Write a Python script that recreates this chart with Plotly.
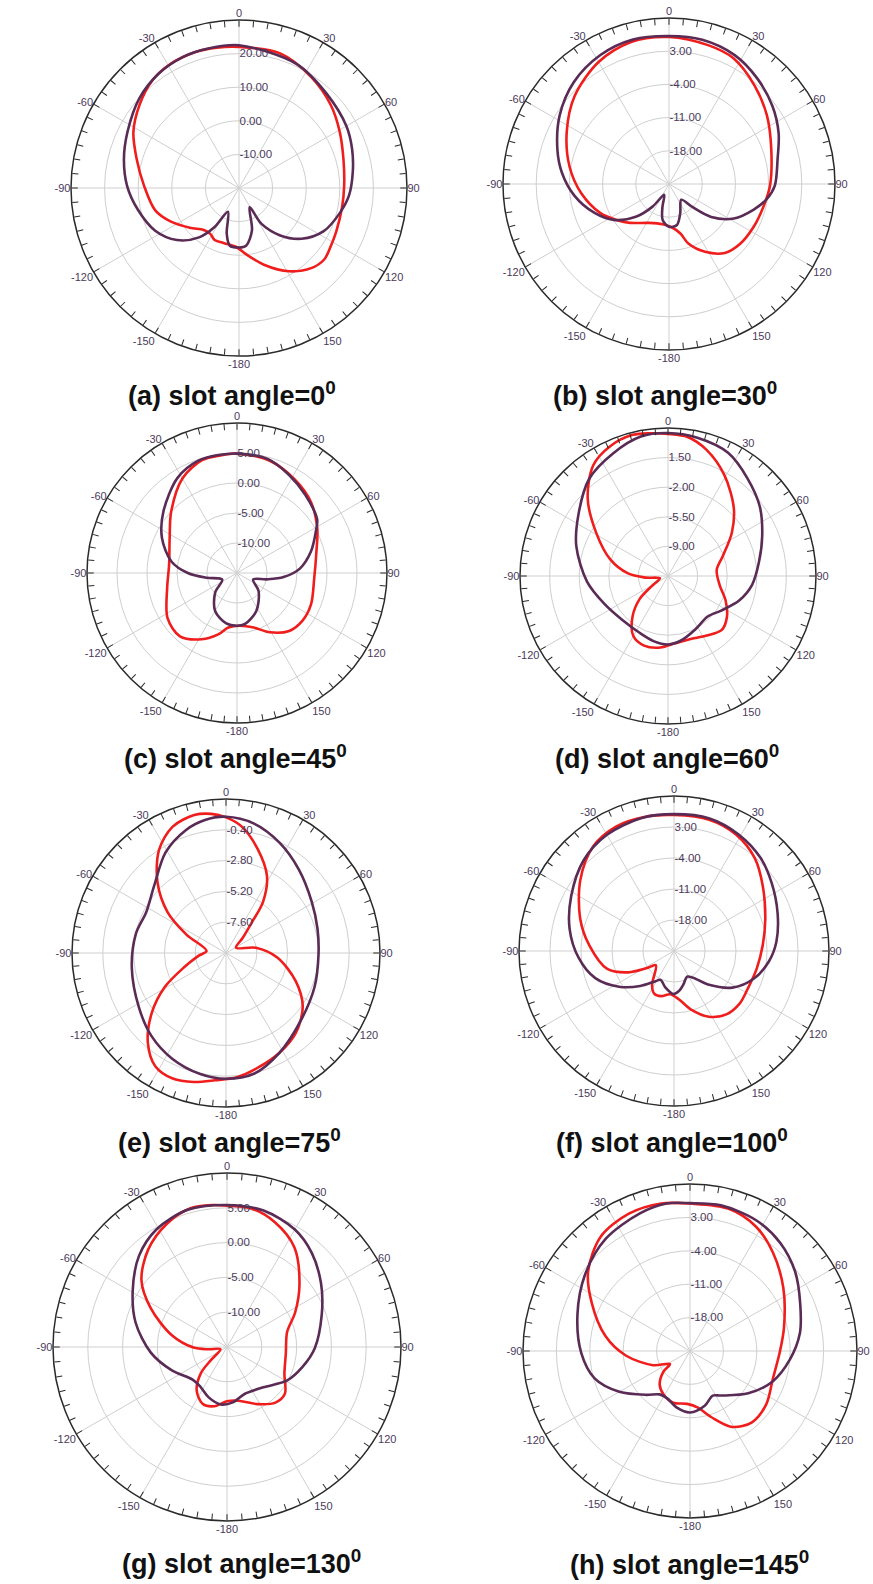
import plotly.graph_objects as go

# Radiation patterns (gain in dB versus angle in degrees, 0 = top, clockwise)
# trace 1 = dark purple curve, trace 2 = red curve

# (a) slot angle = 0
a_theta1 = [0, 25, 43, 60, 71, 82, 94, 104, 117, 129, 139, 148, 151, 163, 173, 180, 189, 195, 205, 212, 219, 230, 243, 258, 271, 284, 297, 312, 325, 337, 348]
a_gain1 = [22.5, 20.7, 18.3, 16.9, 15.6, 14.2, 12.8, 10.9, 8.3, 4.0, -1.3, -7.5, -13.5, -6.8, -2.7, -2.3, -2.6, -5.9, -12.2, -6.3, -1.1, 4.1, 8.0, 10.8, 13.3, 15.3, 17.2, 19.9, 21.6, 22.4, 22.5]
a_theta2 = [0, 17, 33, 48, 61, 75, 89, 100, 114, 123, 130, 138, 149, 162, 174, 183, 195, 205, 212, 220, 231, 244, 255, 271, 286, 298, 310, 321, 331, 342, 351]
a_gain2 = [22.0, 21.9, 19.4, 16.8, 14.3, 12.2, 11.3, 11.2, 11.7, 12.4, 13.1, 12.1, 8.9, 4.0, -0.2, -2.5, -3.0, -2.9, -3.9, -3.7, -1.2, 2.7, 5.8, 8.2, 11.7, 15.6, 18.6, 21.1, 22.2, 22.5, 22.3]
a_range = [-20, 30]
a_rticks = [-10, 0, 10, 20]

# (b) slot angle = 30
b_theta1 = [0, 13, 27, 40, 53, 65, 77, 91, 99, 107, 118, 128, 135, 142, 159, 169, 180, 190, 196, 204, 216, 225, 237, 249, 263, 276, 287, 302, 317, 332, 346]
b_gain1 = [6.2, 6.2, 5.5, 4.0, 2.3, 0.5, -1.5, -2.7, -4.2, -6.4, -9.5, -13.7, -18.3, -20.8, -18.4, -16.2, -16.0, -17.3, -20.0, -22.5, -19.1, -15.3, -11.1, -8.1, -4.9, -2.3, -0.4, 2.2, 4.4, 5.8, 6.4]
b_theta2 = [0, 16, 27, 41, 55, 71, 91, 103, 117, 130, 141, 152, 162, 167, 176, 189, 207, 225, 235, 247, 264, 280, 297, 313, 330, 345]
b_gain2 = [6.0, 5.4, 4.8, 2.5, 0.2, -2.2, -3.7, -4.5, -5.0, -5.4, -6.3, -8.8, -11.8, -14.3, -15.8, -16.4, -15.8, -13.4, -11.7, -9.3, -6.4, -3.7, -0.8, 2.2, 4.7, 6.0]
b_range = [-25, 10]
b_rticks = [-18, -11, -4, 3]

# (c) slot angle = 45
c_theta1 = [0, 15, 28, 41, 56, 62, 74, 86, 95, 102, 112, 130, 153, 171, 180, 192, 210, 228, 246, 261, 270, 280, 295, 310, 328, 341, 351]
c_gain1 = [4.9, 4.7, 3.5, 2.3, 1.1, -0.1, -2.2, -4.5, -7.2, -9.9, -12.1, -10.3, -7.9, -6.4, -6.2, -6.4, -7.7, -10.1, -12.3, -9.9, -6.8, -3.9, -1.2, 1.0, 3.7, 4.8, 4.9]
c_theta2 = [0, 16, 32, 46, 61, 75, 94, 113, 126, 138, 151, 163, 177, 189, 197, 208, 222, 237, 258, 277, 297, 313, 330, 343, 352]
c_gain2 = [4.9, 4.5, 3.3, 2.1, 0.3, -1.3, -2.1, -1.6, -1.5, -2.0, -3.7, -5.5, -6.2, -5.8, -4.3, -2.5, -0.8, -1.2, -3.1, -3.6, -2.4, 0.0, 3.2, 4.7, 4.8]
c_range = [-15, 10]
c_rticks = [-10, -5, 0, 5]

# (d) slot angle = 60
d_theta1 = [0, 12, 26, 39, 53, 67, 81, 96, 109, 123, 136, 153, 169, 180, 192, 207, 226, 246, 266, 288, 305, 321, 336, 349]
d_gain1 = [4.4, 4.2, 3.7, 2.4, 1.1, -0.4, -1.6, -2.5, -3.6, -5.0, -5.8, -5.4, -4.7, -4.4, -4.6, -5.0, -5.0, -4.3, -2.9, -1.1, 0.4, 2.3, 3.4, 4.3]
d_theta2 = [0, 8, 17, 29, 44, 56, 70, 83, 100, 113, 125, 135, 147, 161, 174, 186, 199, 210, 221, 231, 238, 254, 266, 274, 286, 301, 314, 326, 336, 346, 353]
d_gain2 = [4.3, 4.1, 3.1, 1.2, -1.3, -3.4, -5.6, -6.7, -6.3, -5.1, -4.0, -3.5, -4.1, -4.6, -4.5, -4.0, -3.8, -4.3, -6.1, -8.2, -10.2, -11.5, -9.8, -7.7, -5.4, -2.6, 0.7, 3.3, 4.3, 4.7, 4.5]
d_range = [-12.5, 5]
d_rticks = [-9, -5.5, -2, 1.5]

# (e) slot angle = 75
e_theta1 = [0, 12, 26, 41, 59, 75, 91, 111, 132, 152, 167, 180, 192, 207, 222, 238, 261, 282, 297, 313, 329, 342, 351]
e_gain1 = [0.62, 0.33, -0.45, -1.36, -2.21, -2.62, -2.79, -2.61, -2.15, -1.17, -0.34, -0.2, -0.36, -0.76, -1.31, -2.0, -2.57, -2.82, -3.02, -2.34, -0.86, 0.08, 0.49]
e_theta2 = [0, 7, 17, 28, 36, 40, 48, 62, 80, 95, 112, 125, 139, 152, 164, 175, 185, 194, 203, 212, 221, 231, 241, 251, 264, 276, 295, 305, 316, 327, 337, 347, 354]
e_gain2 = [0.57, -0.06, -1.54, -3.2, -5.1, -6.83, -8.26, -9.12, -7.64, -5.99, -4.14, -2.7, -1.72, -1.17, -0.74, -0.28, -0.04, 0.36, 0.63, 0.4, -0.72, -2.55, -4.56, -6.52, -7.84, -8.48, -6.6, -4.44, -2.31, -0.42, 0.68, 1.03, 0.9]
e_range = [-10, 2]
e_rticks = [-7.6, -5.2, -2.8, -0.4]

# (f) slot angle = 100
f_theta1 = [0, 15, 29, 43, 55, 70, 85, 96, 109, 122, 134, 145, 153, 164, 173, 181, 193, 205, 212, 224, 237, 251, 266, 282, 298, 315, 330, 346]
f_gain1 = [5.9, 6.0, 5.1, 3.7, 1.9, -0.1, -1.8, -3.4, -5.9, -9.4, -14.0, -17.7, -18.5, -17.2, -15.9, -15.3, -16.5, -17.8, -16.9, -14.0, -10.2, -6.2, -3.4, -0.9, 1.3, 3.9, 5.3, 5.9]
f_theta2 = [0, 15, 28, 41, 54, 71, 86, 102, 117, 129, 140, 152, 164, 174, 185, 196, 205, 213, 232, 238, 245, 255, 274, 289, 307, 322, 335, 348]
f_gain2 = [5.7, 5.7, 4.8, 2.8, -0.2, -3.2, -4.9, -5.9, -6.3, -6.0, -6.4, -8.2, -11.3, -14.0, -15.2, -14.4, -14.4, -15.9, -19.8, -17.6, -13.6, -9.4, -5.8, -2.6, 1.5, 4.8, 6.0, 6.0]
f_range = [-25, 10]
f_rticks = [-18, -11, -4, 3]

# (g) slot angle = 130
g_theta1 = [0, 15, 30, 42, 56, 71, 91, 105, 119, 138, 159, 174, 186, 200, 213, 226, 247, 266, 285, 301, 316, 329, 344]
g_gain1 = [5.4, 5.3, 4.5, 3.2, 1.3, -0.6, -2.4, -3.8, -5.1, -7.2, -7.8, -7.0, -6.7, -7.3, -8.1, -8.2, -6.4, -4.0, -1.4, 0.8, 3.2, 4.7, 5.5]
g_theta2 = [0, 10, 21, 34, 49, 63, 76, 96, 115, 129, 139, 152, 168, 180, 192, 203, 215, 225, 231, 251, 263, 269, 282, 297, 308, 321, 334, 345, 354]
g_gain2 = [5.3, 5.2, 4.2, 2.3, -1.2, -4.0, -6.1, -6.5, -5.9, -4.3, -4.4, -5.7, -7.1, -7.2, -6.3, -6.1, -7.4, -9.7, -12.1, -14.0, -12.3, -10.2, -6.9, -2.7, 0.6, 3.0, 4.7, 5.6, 5.5]
g_range = [-15, 10]
g_rticks = [-10, -5, 0, 5]

# (h) slot angle = 145
h_theta1 = [0, 12, 27, 40, 53, 67, 81, 95, 110, 126, 145, 153, 165, 180, 193, 206, 215, 225, 240, 254, 269, 288, 306, 323, 340, 351]
h_gain1 = [6.0, 6.2, 5.7, 4.5, 2.6, 0.1, -1.7, -4.0, -6.5, -9.9, -13.6, -14.5, -13.1, -12.1, -12.8, -14.0, -13.9, -12.0, -7.9, -4.2, -2.2, -0.2, 2.2, 4.4, 5.7, 6.3]
h_theta2 = [0, 15, 28, 40, 56, 76, 91, 108, 125, 139, 151, 162, 172, 183, 198, 211, 222, 232, 237, 249, 266, 280, 296, 308, 322, 336, 349]
h_gain2 = [5.9, 5.9, 4.5, 2.0, -1.4, -4.7, -6.2, -6.7, -5.5, -5.2, -6.8, -10.4, -13.0, -13.9, -13.6, -14.3, -15.5, -17.9, -20.0, -16.7, -11.5, -7.0, -2.1, 2.1, 5.4, 6.5, 6.5]
h_range = [-25, 10]
h_rticks = [-18, -11, -4, 3]

slot_angles = [0, 30, 45, 60, 75, 100, 130, 145]
panel_letters = ["a", "b", "c", "d", "e", "f", "g", "h"]
angle_tickvals = list(range(0, 360, 30))
angle_ticktext = ["0", "30", "60", "90", "120", "150", "-180", "-150", "-120", "-90", "-60", "-30"]
minor_tickvals = list(range(0, 360, 5))

panels = [
    (a_theta1, a_gain1, a_theta2, a_gain2, a_range, a_rticks),
    (b_theta1, b_gain1, b_theta2, b_gain2, b_range, b_rticks),
    (c_theta1, c_gain1, c_theta2, c_gain2, c_range, c_rticks),
    (d_theta1, d_gain1, d_theta2, d_gain2, d_range, d_rticks),
    (e_theta1, e_gain1, e_theta2, e_gain2, e_range, e_rticks),
    (f_theta1, f_gain1, f_theta2, f_gain2, f_range, f_rticks),
    (g_theta1, g_gain1, g_theta2, g_gain2, g_range, g_rticks),
    (h_theta1, h_gain1, h_theta2, h_gain2, h_range, h_rticks),
]

# Layout geometry in pixels: circle centre x, centre y, radius; caption centre x, y
W, H = 873, 1584
geometry = [
    (239, 188, 168, 232, 394),
    (669, 184, 166, 665, 394),
    (237, 573, 150, 236, 757),
    (668, 576, 148, 667, 757),
    (226, 953, 154, 229, 1141),
    (674, 951, 155, 672, 1141),
    (227, 1347, 174, 241, 1562),
    (690, 1351, 167, 689, 1563),
]

PURPLE = "#5a2b55"
RED = "#f01d1d"
GRID = "#cfcfcf"
LABEL = "#4b3a5a"
EDGE = "#2a2a2a"
FONT = "Liberation Sans, Arial, sans-serif"


def closed(seq):
    return list(seq) + [seq[0]]


def domain(cx, cy, r):
    return dict(x=[(cx - r) / W, (cx + r) / W], y=[1 - (cy + r) / H, 1 - (cy - r) / H])


fig = go.Figure()
layout = {}
annotations = []

for k, ((th1, g1, th2, g2, rng, rticks), (cx, cy, r, tx, ty)) in enumerate(zip(panels, geometry)):
    main = "polar" if k == 0 else f"polar{2 * k + 1}"
    overlay = f"polar{2 * k + 2}"

    fig.add_trace(go.Scatterpolar(
        theta=closed(th2), r=closed(g2), mode="lines", subplot=main,
        line=dict(color=RED, width=2.6, shape="spline", smoothing=0.9),
        showlegend=False, hoverinfo="skip"))
    fig.add_trace(go.Scatterpolar(
        theta=closed(th1), r=closed(g1), mode="lines", subplot=main,
        line=dict(color=PURPLE, width=2.6, shape="spline", smoothing=0.9),
        showlegend=False, hoverinfo="skip"))
    # empty trace so the 5-degree tick ring subplot is created
    fig.add_trace(go.Scatterpolar(theta=[], r=[], subplot=overlay, showlegend=False, hoverinfo="skip"))

    dom = domain(cx, cy, r)
    layout[main] = dict(
        domain=dom,
        bgcolor="rgba(0,0,0,0)",
        angularaxis=dict(
            direction="clockwise", rotation=90,
            tickmode="array", tickvals=angle_tickvals, ticktext=angle_ticktext,
            ticks="", showline=False, showgrid=True, gridcolor=GRID, gridwidth=1,
            tickfont=dict(family=FONT, size=11, color=LABEL),
        ),
        radialaxis=dict(
            range=rng, angle=90, tickangle=90, side="clockwise",
            tickmode="array", tickvals=rticks, ticktext=[f"{v:.2f}" for v in rticks],
            ticks="", showline=False, showgrid=True, gridcolor=GRID, gridwidth=1,
            tickfont=dict(family=FONT, size=11.5, color=LABEL),
        ),
    )
    layout[overlay] = dict(
        domain=dom,
        bgcolor="rgba(0,0,0,0)",
        angularaxis=dict(
            direction="clockwise", rotation=90,
            tickmode="array", tickvals=minor_tickvals, showticklabels=False,
            ticks="inside", ticklen=6, tickwidth=1.2, tickcolor=EDGE,
            showline=True, linecolor=EDGE, linewidth=1.5, showgrid=False,
        ),
        radialaxis=dict(visible=False),
    )
    annotations.append(dict(
        text=f"<b>({panel_letters[k]}) slot angle={slot_angles[k]}<sup>0</sup></b>",
        x=tx / W, y=1 - ty / H, xref="paper", yref="paper",
        xanchor="center", yanchor="middle", showarrow=False,
        font=dict(family=FONT, size=27, color="#111111"),
    ))

fig.update_layout(
    width=W, height=H,
    margin=dict(l=0, r=0, t=0, b=0),
    paper_bgcolor="white", plot_bgcolor="white",
    showlegend=False,
    annotations=annotations,
    **layout,
)

fig.write_html("out.html")
